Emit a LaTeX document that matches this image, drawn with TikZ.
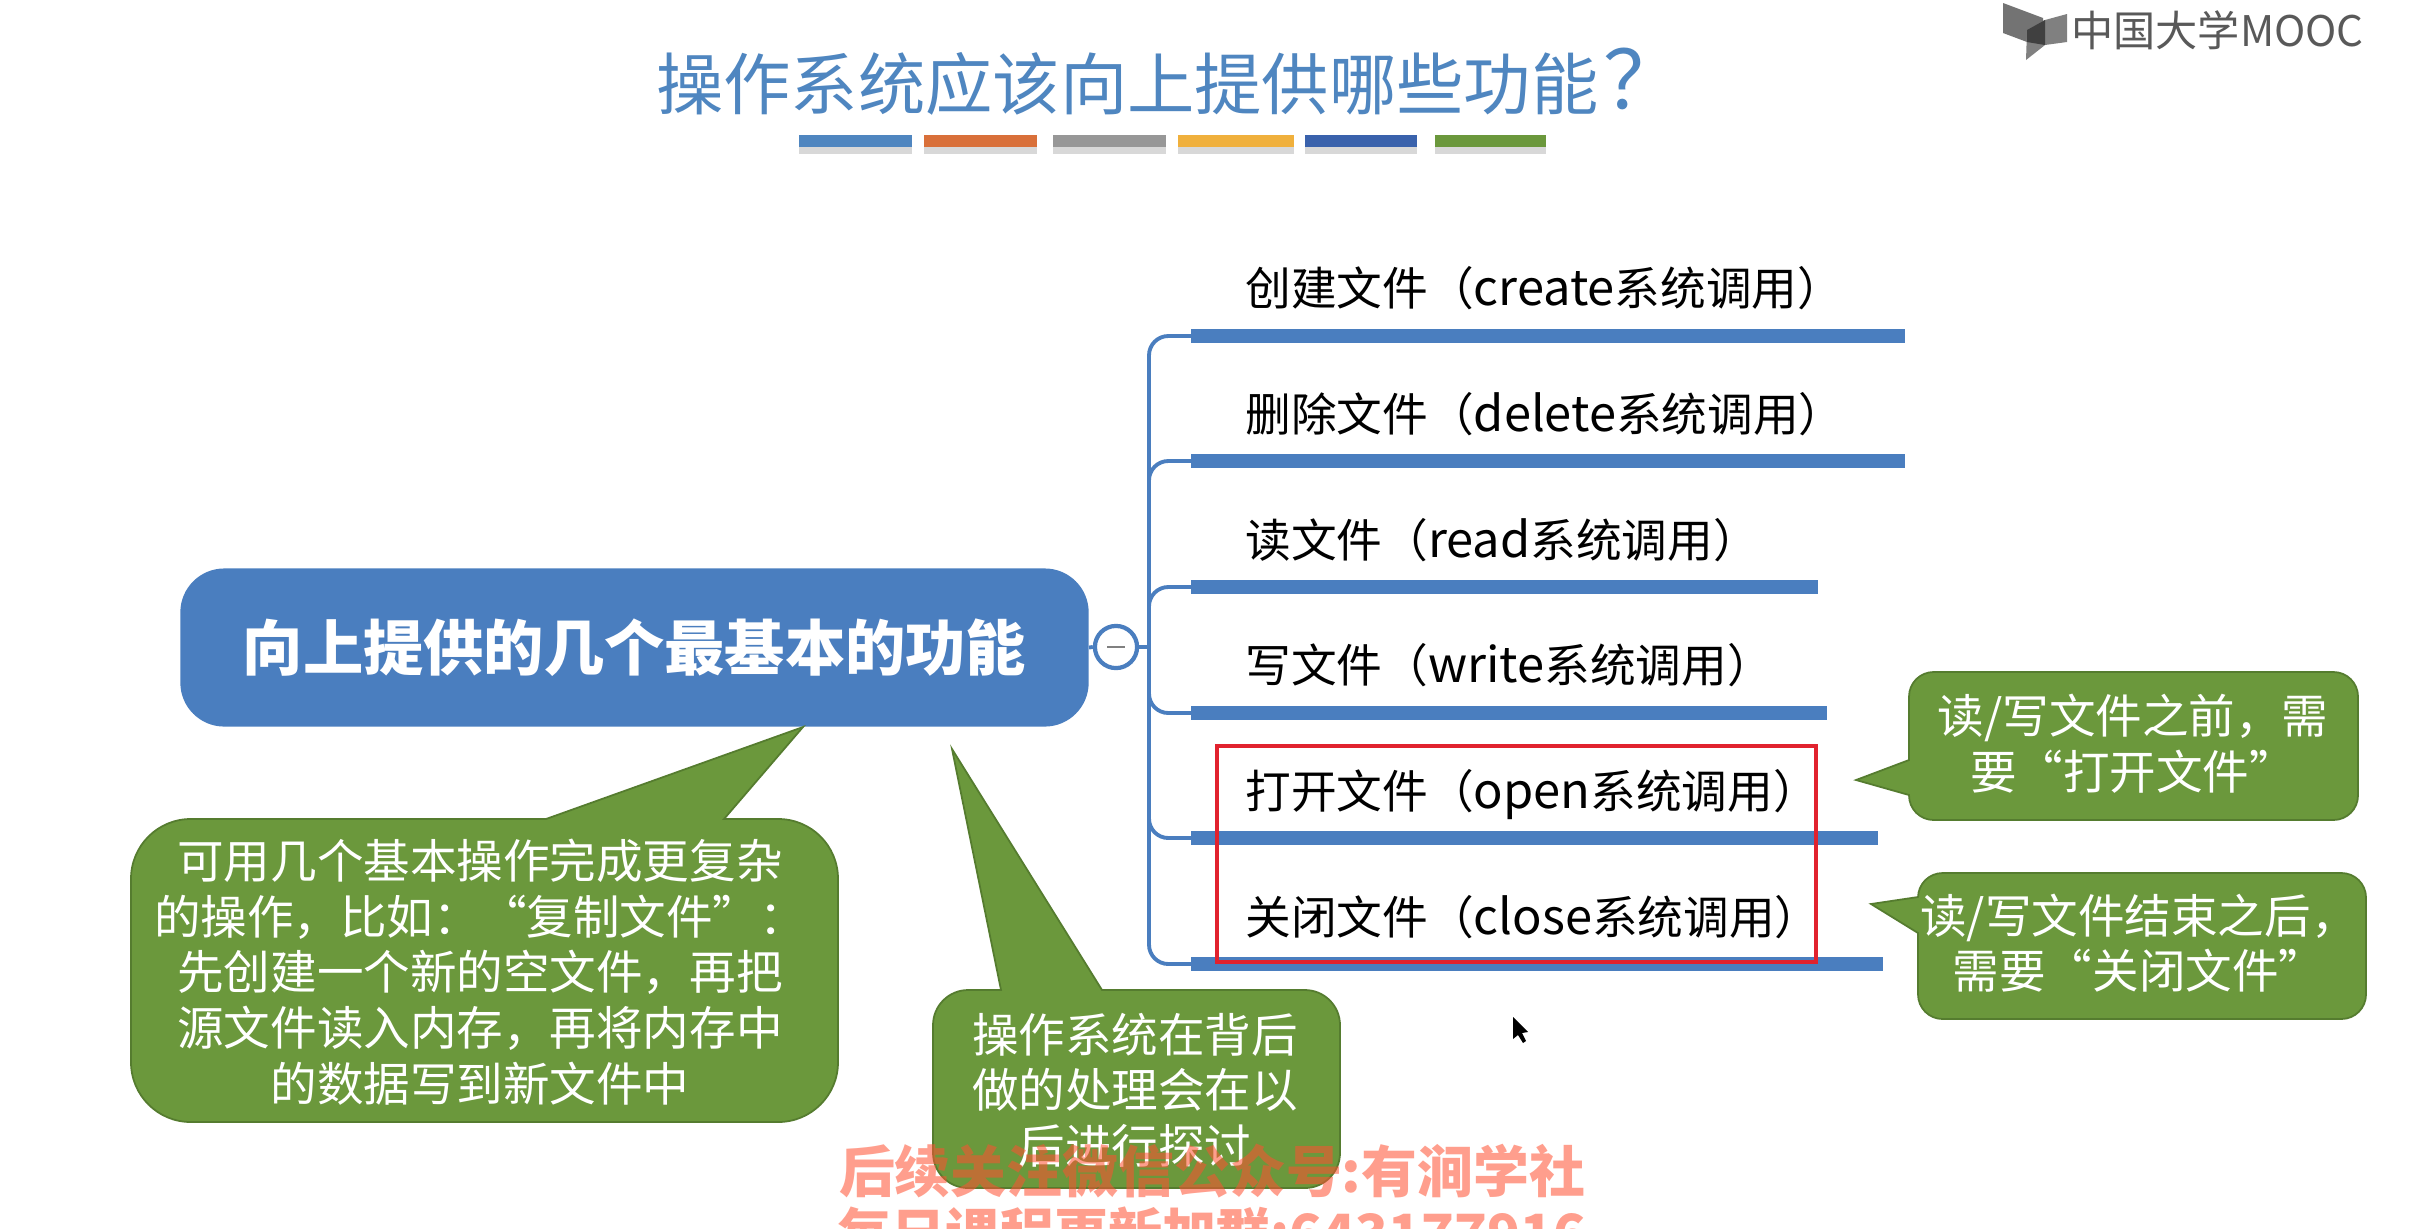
\documentclass[tikz,border=0pt]{standalone}
\usepackage{fontspec}
\setmainfont{Noto Sans CJK SC}
\definecolor{rootblue}{HTML}{4A7EBF}
\definecolor{noteg}{HTML}{6B983C}
\definecolor{noteline}{HTML}{557C2F}
\definecolor{titleblue}{HTML}{4F86C0}
\definecolor{redbox}{HTML}{E1222E}
\definecolor{wmred}{HTML}{FF5030}
\newcommand{\callname}[1]{{\fontsize{27.8}{32}\selectfont #1}}
\begin{document}
\begin{tikzpicture}[x=0.02cm,y=-0.02cm,
	rootbox/.style={fill=rootblue,rounded corners=25pt,minimum width=517pt,minimum height=90pt,inner sep=0pt,text=white,font=\fontsize{34.3}{44}\selectfont\bfseries},
	toggle/.style={circle,draw=rootblue,line width=2.4pt,fill=white,minimum size=24pt,inner sep=0pt,text=gray},
	branch/.style={draw=rootblue,line width=2.2pt,rounded corners=11pt},
	bar/.style={draw=rootblue,line width=8pt},
	topic/.style={anchor=base west,inner sep=0pt,text=black,font=\fontsize{26}{32}\selectfont},
	note/.style={fill=noteg,draw=noteline,line width=1pt},
	notetext/.style={align=center,inner sep=0pt,text=white,font=\fontsize{26.5}{31.7}\selectfont}]
	\path[use as bounding box,clip] (0,0) rectangle (2412,1228);
	\fill[white] (0,0) rectangle (2412,1228);

	% title and its colour strip
	\node[anchor=west,text=titleblue,inner sep=0pt,font=\fontsize{38.3}{44}\selectfont] (title) at (656,82) {操作系统应该向上提供哪些功能\kern3pt{\fontsize{46}{44}\selectfont ？}};
	\fill[black!30,opacity=0.5] (799,147) rectangle (912,154);
	\fill[black!30,opacity=0.5] (924,147) rectangle (1037,154);
	\fill[black!30,opacity=0.5] (1053,147) rectangle (1166,154);
	\fill[black!30,opacity=0.5] (1178,147) rectangle (1294,154);
	\fill[black!30,opacity=0.5] (1305,147) rectangle (1417,154);
	\fill[black!30,opacity=0.5] (1435,147) rectangle (1546,154);
	\fill[fill=titleblue] (799,135) rectangle (912,147);
	\fill[fill={rgb,255:red,217;green,112;blue,58}] (924,135) rectangle (1037,147);
	\fill[fill={rgb,255:red,151;green,151;blue,151}] (1053,135) rectangle (1166,147);
	\fill[fill={rgb,255:red,240;green,176;blue,60}] (1178,135) rectangle (1294,147);
	\fill[fill={rgb,255:red,58;green,98;blue,172}] (1305,135) rectangle (1417,147);
	\fill[fill=noteg] (1435,135) rectangle (1546,147);

	% logo
	\fill[black!55] (2003,3) -- (2043,18) -- (2043,30) -- (2027,42) -- (2003,33) -- cycle;
	\fill[black!50] (2067,14) -- (2067,42) -- (2045,45) -- (2026,60) -- (2027,30) -- (2045,20) -- cycle;
	\fill[black!75] (2045,20) -- (2027,30) -- (2027,42) -- (2045,45) -- cycle;
	\node[anchor=west,inner sep=0pt,text=black!65,font=\fontsize{24}{26}\selectfont] (logo) at (2071,30) {中国大学MOOC};

	% the tree
	\node[rootbox] (root) at (634.5,647.5) {\raisebox{-3.4pt}{向上提供的几个最基本的功能}};
	\node[toggle] (fold) at (1116,647) {};
	\draw[gray,line width=1.6pt] (1107,647) -- (1125,647);
	\coordinate (J) at (1149,647);
	\draw[draw=rootblue,line width=2.2pt] (root.east)--(fold.west);
	\draw[draw=rootblue,line width=2.2pt] (fold.east)--(J);

	\coordinate (b1) at (1191,336) ; \coordinate (e1) at (1905,336) ;
	\coordinate (b2) at (1191,461) ; \coordinate (e2) at (1905,461) ;
	\coordinate (b3) at (1191,587) ; \coordinate (e3) at (1818,587) ;
	\coordinate (b4) at (1191,713) ; \coordinate (e4) at (1827,713) ;
	\coordinate (b5) at (1191,838) ; \coordinate (e5) at (1878,838) ;
	\coordinate (b6) at (1191,964) ; \coordinate (e6) at (1883,964) ;

	\draw[branch] (J) |- (b1);
	\draw[branch] (J) |- (b2);
	\draw[branch] (J) |- (b3);
	\draw[branch] (J) |- (b4);
	\draw[branch] (J) |- (b5);
	\draw[branch] (J) |- (b6);

	\draw[bar] (b1)--(e1);
	\draw[bar] (b2)--(e2);
	\draw[bar] (b3)--(e3);
	\draw[bar] (b4)--(e4);
	\draw[bar] (b5)--(e5);
	\draw[bar] (b6)--(e6);

	\node[topic] (t1) at (1245,305) {创建文件（\callname{create}系统调用）};
	\node[topic] (t2) at (1245,431) {删除文件（\callname{delete}系统调用）};
	\node[topic] (t3) at (1245,557) {读文件（\callname{read}系统调用）};
	\node[topic] (t4) at (1245,682) {写文件（\callname{write}系统调用）};
	\node[topic] (t5) at (1245,808) {打开文件（\callname{open}系统调用）};
	\node[topic] (t6) at (1245,934) {关闭文件（\callname{close}系统调用）};

	% red frame
	\draw[redbox,line width=2.6pt] (1217,746) rectangle (1816,962);

	% notes
	\draw[note] (803,727) -- (724,819) [rounded corners=34pt] -- (838,819) -- (838,1122) -- (131,1122) -- (131,819) [sharp corners] -- (546,819) -- cycle;
	\node[notetext] (n1) at (480,972) {可用几个基本操作完成更复杂\\的操作，比如：“复制文件”：\\先创建一个新的空文件，再把\\源文件读入内存，再将内存中\\的数据写到新文件中};

	\draw[note] (952,749) -- (1102,990) [rounded corners=20pt] -- (1340,990) -- (1340,1188) -- (933,1188) -- (933,990) [sharp corners] -- (1001,990) -- cycle;
	\node[notetext] (n2) at (1135,1090) {操作系统在背后\\做的处理会在以\\后进行探讨};

	\draw[note] (1856,780) -- (1909,760) [rounded corners=14pt] -- (1909,672) -- (2358,672) -- (2358,820) -- (1909,820) [sharp corners] -- (1909,795) -- cycle;
	\node[notetext] (n3) at (2133,744) {读/写文件之前，需\\要“打开文件”};

	\draw[note] (1871,904) -- (1918,897) [rounded corners=14pt] -- (1918,873) -- (2366,873) -- (2366,1019) -- (1918,1019) [sharp corners] -- (1918,933) -- cycle;
	\node[notetext] (n4) at (2139,943) {读/写文件结束之后，\\需要“关闭文件”};

	% mouse pointer
	\fill[black] (1513,1017) -- (1513,1039) -- (1518,1035) -- (1523,1043) -- (1526,1041) -- (1522,1033) -- (1528,1032) -- cycle;

	% overlay text at the bottom
	\node[align=center,inner sep=0pt,text=wmred,text opacity=0.55,font=\fontsize{31.8}{34.6}\selectfont\bfseries] (wm) at (1212,1201) {后续关注微信公众号:有涧学社\\{\fontsize{30.8}{34.6}\selectfont 每日课程更新加群:643177916}};
\end{tikzpicture}
\end{document}
